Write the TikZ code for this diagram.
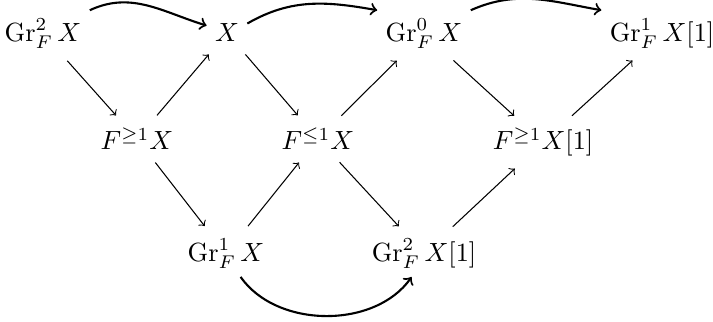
\documentclass[tikz,border=0pt]{standalone}
\usepackage{amsmath}
\begin{document}
\begin{tikzpicture}
[
	x=0.38pt,y=-0.38pt,
	obj/.style={anchor=base,inner sep=3pt},
	map/.style={->,shorten <=2pt,shorten >=2pt},
	bigmap/.style={->,thick}
]

	\useasboundingbox (0,0) rectangle (713,322);

	% top row
	\node[obj] (grtwo) at (43,42) {$\mathrm{Gr}^2_F\,X$};
	\node[obj] (xx) at (227,42) {$X$};
	\node[obj] (grzero) at (424,42) {$\mathrm{Gr}^0_F\,X$};
	\node[obj] (gronesh) at (662,42) {$\mathrm{Gr}^1_F\,X[1]$};

	% middle row
	\node[obj] (fge) at (137,150) {$F^{\geq 1}X$};
	\node[obj] (fle) at (318,150) {$F^{\leq 1}X$};
	\node[obj] (fgesh) at (543,150) {$F^{\geq 1}X[1]$};

	% bottom row
	\node[obj] (grone) at (226,262) {$\mathrm{Gr}^1_F\,X$};
	\node[obj] (grtwosh) at (424,262) {$\mathrm{Gr}^2_F\,X[1]$};

	% diagonals
	\draw[map] (grtwo) -- (fge);
	\draw[map] (fge) -- (xx);
	\draw[map] (fge) -- (grone);
	\draw[map] (grone) -- (fle);
	\draw[map] (xx) -- (fle);
	\draw[map] (fle) -- (grzero);
	\draw[map] (fle) -- (grtwosh);
	\draw[map] (grzero) -- (fgesh);
	\draw[map] (grtwosh) -- (fgesh);
	\draw[map] (fgesh) -- (gronesh);

	% curved maps
	\draw[bigmap] (grtwo.north east) to[out=25,in=163] (xx.160);
	\draw[bigmap] (xx.25) to[out=30,in=170] (grzero.north west);
	\draw[bigmap] (grzero.north east) to[out=24,in=170] (gronesh.north west);
	\draw[bigmap] (grone.-58) to[out=-55,in=-125,looseness=0.95] (grtwosh.-118);

\end{tikzpicture}
\end{document}
